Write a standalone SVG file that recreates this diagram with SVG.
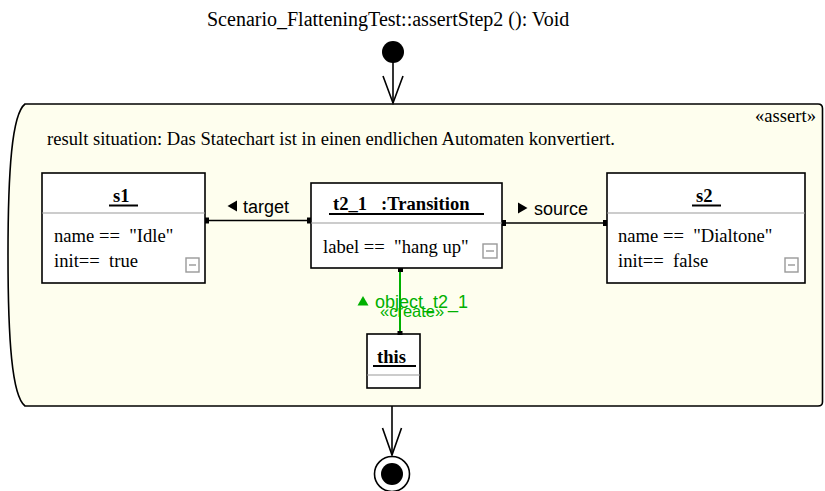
<svg xmlns="http://www.w3.org/2000/svg" width="825" height="491" viewBox="0 0 825 491">
  <style>
    .serif { font-family: "Liberation Serif", "Times New Roman", serif; font-size: 18.6px; fill: #000; }
    .bold { font-weight: bold; }
    .sans { font-family: "Liberation Sans", Arial, sans-serif; font-size: 18px; fill: #000; }
    .box { fill: #fff; stroke: #000; stroke-width: 1.6; }
    .sep { stroke: #999; stroke-width: 1.2; }
    .uline { stroke: #000; stroke-width: 2; }
    .icon { fill: #fff; stroke: #999; stroke-width: 1.4; }
    .edge { stroke: #000; stroke-width: 1.6; fill: none; }
    .end { fill: #000; }
    .green { fill: #00b000; }
    .gline { stroke: #00b000; stroke-width: 2; }
  </style>

  <!-- activity title -->
  <text class="serif" x="207" y="26" style="font-size:20px">Scenario_FlatteningTest::assertStep2 (): Void</text>

  <!-- start node -->
  <g id="start">
    <circle cx="393" cy="52" r="11" fill="#000"/>
  </g>

  <!-- assert frame -->
  <g id="assert">
    <path d="M25,104 L818,104 Q822.5,104 822.5,108.5 L822.5,402 Q822.5,406 818,406 L25,406 C12,396 8,340 8,255 C8,170 12,114 25,104 Z" fill="#fefeee" stroke="#000" stroke-width="1.6"/>
    <text class="serif" x="816" y="122" text-anchor="end">«assert»</text>
    <text class="serif" x="47" y="145">result situation: Das Statechart ist in einen endlichen Automaten konvertiert.</text>
  </g>

  <!-- object s1 -->
  <g id="s1">
    <rect class="box" x="42" y="173" width="163" height="110"/>
    <text class="serif bold" x="113" y="202">s1</text>
    <line class="uline" x1="109" y1="205.5" x2="138" y2="205.5"/>
    <line class="sep" x1="42" y1="213" x2="205" y2="213"/>
    <text class="serif" x="54" y="242" xml:space="preserve">name ==  "Idle"</text>
    <text class="serif" x="54" y="267" xml:space="preserve">init==  true</text>
    <rect class="icon" x="186" y="258" width="13" height="14"/>
    <line x1="189" y1="265" x2="196" y2="265" stroke="#999" stroke-width="1.4"/>
  </g>

  <!-- object t2_1 -->
  <g id="t2_1">
    <rect class="box" x="311" y="183" width="191" height="85"/>
    <text class="serif bold" x="333" y="210" xml:space="preserve">t2_1   :Transition</text>
    <line class="uline" x1="329" y1="214" x2="484" y2="214"/>
    <line class="sep" x1="311" y1="223" x2="502" y2="223"/>
    <text class="serif" x="323" y="253" xml:space="preserve">label ==  "hang up"</text>
    <rect class="icon" x="483" y="244" width="14" height="14"/>
    <line x1="486" y1="251" x2="494" y2="251" stroke="#999" stroke-width="1.4"/>
  </g>

  <!-- object s2 -->
  <g id="s2">
    <rect class="box" x="607" y="173" width="198" height="110"/>
    <text class="serif bold" x="696" y="202">s2</text>
    <line class="uline" x1="692" y1="205.5" x2="721" y2="205.5"/>
    <line class="sep" x1="607" y1="213" x2="805" y2="213"/>
    <text class="serif" x="618" y="242" xml:space="preserve">name ==  "Dialtone"</text>
    <text class="serif" x="618" y="267" xml:space="preserve">init==  false</text>
    <rect class="icon" x="785" y="258" width="13" height="14"/>
    <line x1="788" y1="265" x2="795" y2="265" stroke="#999" stroke-width="1.4"/>
  </g>

  <!-- object this -->
  <g id="this">
    <rect class="box" x="367" y="334" width="53" height="54"/>
    <text class="serif bold" x="377" y="363">this</text>
    <line class="uline" x1="373" y1="366" x2="416" y2="366"/>
    <line class="sep" x1="367" y1="375" x2="420" y2="375"/>
  </g>

  <!-- final node -->
  <g id="final">
    <circle cx="392" cy="474" r="17.5" fill="#fff" stroke="#000" stroke-width="1.6"/>
    <circle cx="392" cy="474" r="11" fill="#000"/>
  </g>

  <!-- connectors -->
  <g id="connectors">
    <!-- control flow: start to frame -->
    <line class="edge" x1="393" y1="62" x2="393" y2="103"/>
    <polyline class="edge" points="383,76 393,103 403,76"/>
    <!-- control flow: frame to final -->
    <line class="edge" x1="392" y1="406" x2="392" y2="455"/>
    <polyline class="edge" points="382.5,428 392,455 401.5,428"/>

    <!-- link target -->
    <line class="edge" x1="205" y1="220.5" x2="311" y2="220.5"/>
    <rect class="end" x="205" y="217.5" width="4" height="6"/>
    <rect class="end" x="307" y="217.5" width="4" height="6"/>
    <polygon class="end" points="227.5,206 237,200.5 237,211.5"/>
    <text class="sans" x="243" y="213">target</text>

    <!-- link source -->
    <line class="edge" x1="502" y1="223" x2="607" y2="223"/>
    <rect class="end" x="502" y="220" width="4" height="6"/>
    <rect class="end" x="603" y="220" width="4" height="6"/>
    <polygon class="end" points="527.5,208 518,202.5 518,213.5"/>
    <text class="sans" x="534" y="215">source</text>

    <!-- create link object_t2_1 -->
    <line class="gline" x1="400" y1="270" x2="400" y2="333"/>
    <rect class="end" x="398" y="268" width="5" height="4"/>
    <rect class="end" x="397.5" y="331" width="5" height="4"/>
    <polygon class="green" points="363,296 357.5,305.5 368.5,305.5"/>
    <text class="sans green" x="375" y="308">object_t2_1</text>
    <text class="sans green" x="380" y="317" style="font-size:16.5px">«create»</text>
  </g>
</svg>
